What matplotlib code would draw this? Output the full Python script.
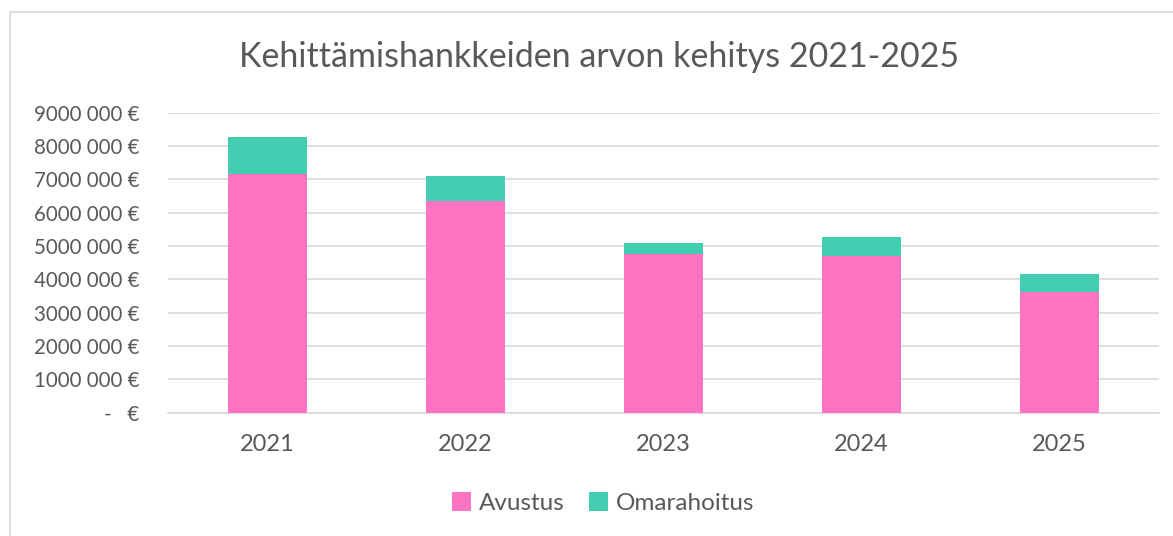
import numpy as np
import matplotlib.pyplot as plt
from matplotlib.patches import Rectangle

years = ['2021', '2022', '2023', '2024', '2025']
avustus = [7160000, 6340000, 4770000, 4700000, 3620000]
omarahoitus = [1110000, 760000, 330000, 560000, 550000]
ytick_vals = [0, 1e6, 2e6, 3e6, 4e6, 5e6, 6e6, 7e6, 8e6, 9e6]
ytick_labels = ['-   €', '1000 000 €', '2000 000 €', '3000 000 €', '4000 000 €',
                '5000 000 €', '6000 000 €', '7000 000 €', '8000 000 €', '9000 000 €']

pink = '#FF73C3'
teal = '#43CDB0'
grey = '#595959'

plt.rcParams['font.family'] = ['Lato', 'DejaVu Sans']

fig = plt.figure(figsize=(11.73, 5.36), dpi=100)
fig.patches.append(Rectangle((10 / 1173, -0.1), 1.2, 1 - 12 / 536 + 0.1,
                             transform=fig.transFigure, fill=False,
                             edgecolor='#D9D9D9', linewidth=1.2))

ax = fig.add_axes([0.1436, 0.23, 0.8441, 0.5597])
x = np.arange(len(years))
ax.bar(x, avustus, width=0.4, color=pink, label='Avustus', zorder=3)
ax.bar(x, omarahoitus, width=0.4, bottom=avustus, color=teal,
       label='Omarahoitus', zorder=3)

ax.set_xlim(-0.5, len(years) - 0.5)
ax.set_ylim(0, 9e6)
ax.set_yticks(ytick_vals)
ax.set_yticklabels(ytick_labels)
ax.set_xticks(x)
ax.set_xticklabels(years)
ax.grid(axis='y', color='#D9D9D9', linewidth=1.2, zorder=0)
for s in ['top', 'right', 'left']:
    ax.spines[s].set_visible(False)
ax.spines['bottom'].set_color('#D9D9D9')
ax.spines['bottom'].set_linewidth(1.2)
ax.tick_params(axis='both', length=0, colors=grey)
ax.tick_params(axis='y', pad=21, labelsize=14.8)
ax.tick_params(axis='x', pad=15, labelsize=17)

fig.text(0.511, 0.893, 'Kehittämishankkeiden arvon kehitys 2021-2025',
         ha='center', va='center', fontsize=24.5, color=grey)

fig.legend(loc='center', bbox_to_anchor=(603 / 1173, 1 - 503 / 536), ncol=2,
           frameon=False, fontsize=17.5, labelcolor=grey, handlelength=0.8,
           handleheight=0.8, handletextpad=0.3, columnspacing=1.0)

fig.savefig('out.png', dpi=100)
